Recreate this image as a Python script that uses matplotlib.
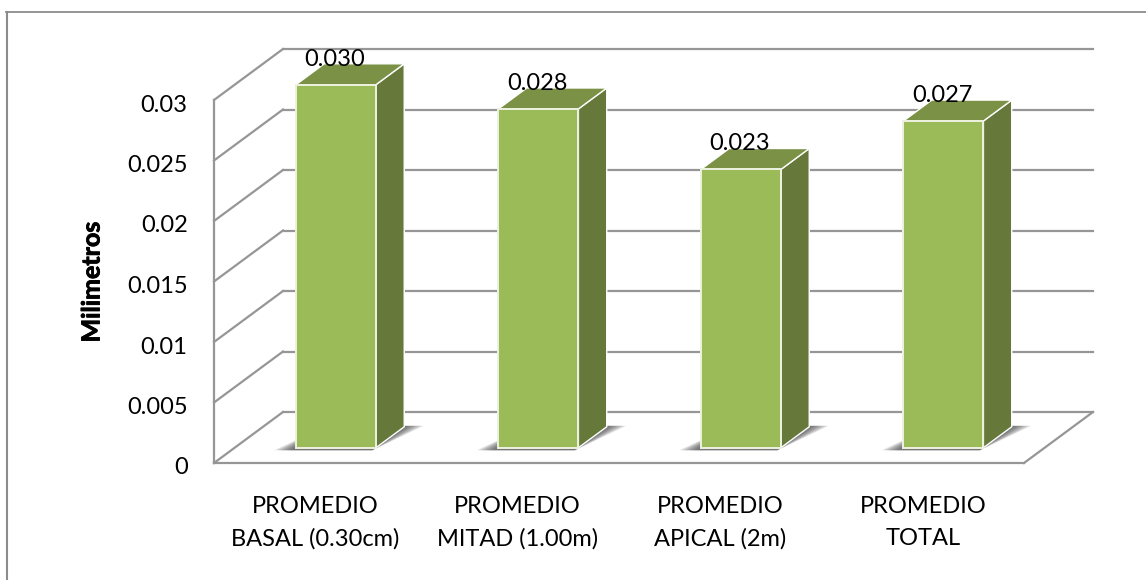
import matplotlib
matplotlib.use('Agg')
import matplotlib.pyplot as plt
import matplotlib.patheffects as pe
from matplotlib.lines import Line2D
from matplotlib.patches import Polygon
from matplotlib.transforms import ScaledTranslation

categorias = ['PROMEDIO\nBASAL (0.30cm)', 'PROMEDIO\nMITAD (1.00m)', 'PROMEDIO\nAPICAL (2m)', 'PROMEDIO\nTOTAL']
valores = [0.030, 0.028, 0.023, 0.027]
etiquetas = ['0.030', '0.028', '0.023', '0.027']
y_ticks = [0, 0.005, 0.01, 0.015, 0.02, 0.025, 0.03]
y_labels = ['0', '0.005', '0.01', '0.015', '0.02', '0.025', '0.03']

plt.rcParams['font.family'] = ['Lato', 'DejaVu Sans']

W, H = 1146, 580
GRIS = '#969696'
FRENTE = '#9BBB59'
LADO = '#66783A'
TAPA = '#7A9146'

fig = plt.figure(figsize=(W / 100, H / 100), dpi=100)
fig.patch.set_facecolor('white')

# el marco del grafico solo se ve arriba y a la izquierda
fig.add_artist(Line2D([7 / W, 7 / W], [0, (H - 11.5) / H], color='#8c8c8c', lw=1.5))
fig.add_artist(Line2D([6 / W, 1], [(H - 11.5) / H, (H - 11.5) / H], color='#8c8c8c', lw=1.3))

ax = fig.add_axes([214 / W, (H - 463) / H, 810 / W, 363 / H])
ax.set_xlim(-0.5, 3.5)
ax.set_ylim(0, 0.03)

# profundidad de la caja 3D en unidades de datos
DX = 69 / 202.5
DY = 51 / 12100
P0 = 0.30   # cara frontal de la barra
P1 = 0.71   # cara trasera
ANCHO = 0.1975


def proy(x, v, d):
    return (x + d * DX, v + d * DY)


# pared del fondo y pared izquierda
for v in y_ticks:
    ax.plot([-0.5 + DX, 3.5 + DX], [v + DY, v + DY], color=GRIS, lw=1.6, clip_on=False, zorder=1)
    ax.plot([-0.5, -0.5 + DX], [v, v + DY], color=GRIS, lw=1.6, clip_on=False, zorder=1)
ax.plot([3.5, 3.5 + DX], [0, DY], color=GRIS, lw=1.6, clip_on=False, zorder=1)

for i, v in enumerate(valores):
    izq, der = i - ANCHO, i + ANCHO

    # sombra sobre el piso, por capas
    for k in range(8):
        e = 0.09 * (1 - k / 8)
        sombra = [proy(izq - e, 0, P0 - 0.05), proy(der, 0, P0 - 0.05),
                  proy(der + e, 0, P1 + 0.02), proy(izq, 0, P1)]
        ax.add_patch(Polygon(sombra, closed=True, fc='#303030', ec='none', alpha=0.12,
                             clip_on=False, zorder=2))

    ax.add_patch(Polygon([proy(der, 0, P0), proy(der, 0, P1), proy(der, v, P1), proy(der, v, P0)],
                         closed=True, fc=LADO, ec='white', lw=1.0, clip_on=False, zorder=3))
    ax.add_patch(Polygon([proy(izq, v, P0), proy(der, v, P0), proy(der, v, P1), proy(izq, v, P1)],
                         closed=True, fc=TAPA, ec='white', lw=1.0, clip_on=False, zorder=3))
    ax.add_patch(Polygon([proy(izq, 0, P0), proy(der, 0, P0), proy(der, v, P0), proy(izq, v, P0)],
                         closed=True, fc=FRENTE, ec='#EDF2DF', lw=1.4, clip_on=False, zorder=4))

    cx, cy = proy(i, v, P0)
    ax.text(cx - 1 / 202.5, cy + 25.5 / 12100, etiquetas[i], ha='center', va='center', fontsize=17,
            color='black', zorder=5)

for lado in ['top', 'right']:
    ax.spines[lado].set_visible(False)
for lado in ['left', 'bottom']:
    ax.spines[lado].set_color(GRIS)
    ax.spines[lado].set_linewidth(1.6)

ax.set_xticks(range(len(categorias)))
ax.set_xticklabels(categorias, fontsize=17, linespacing=1.62, multialignment='center')
ax.set_yticks(y_ticks)
ax.set_yticklabels(y_labels, fontsize=17)
ax.tick_params(axis='both', length=0)
ax.tick_params(axis='y', pad=19)
ax.tick_params(axis='x', pad=24)
ax.patch.set_visible(False)

# las etiquetas del eje y van un poco por debajo de su linea
bajar = ScaledTranslation(0, -3 / 100, fig.dpi_scale_trans)
for lab in ax.get_yticklabels():
    lab.set_transform(lab.get_transform() + bajar)

fig.text(92 / W, (H - 282) / H, 'Milimetros', rotation=90, ha='center', va='center',
         fontsize=18, fontweight='bold',
         path_effects=[pe.withStroke(linewidth=0.6, foreground='black')])

fig.savefig('out.png', dpi=100)
